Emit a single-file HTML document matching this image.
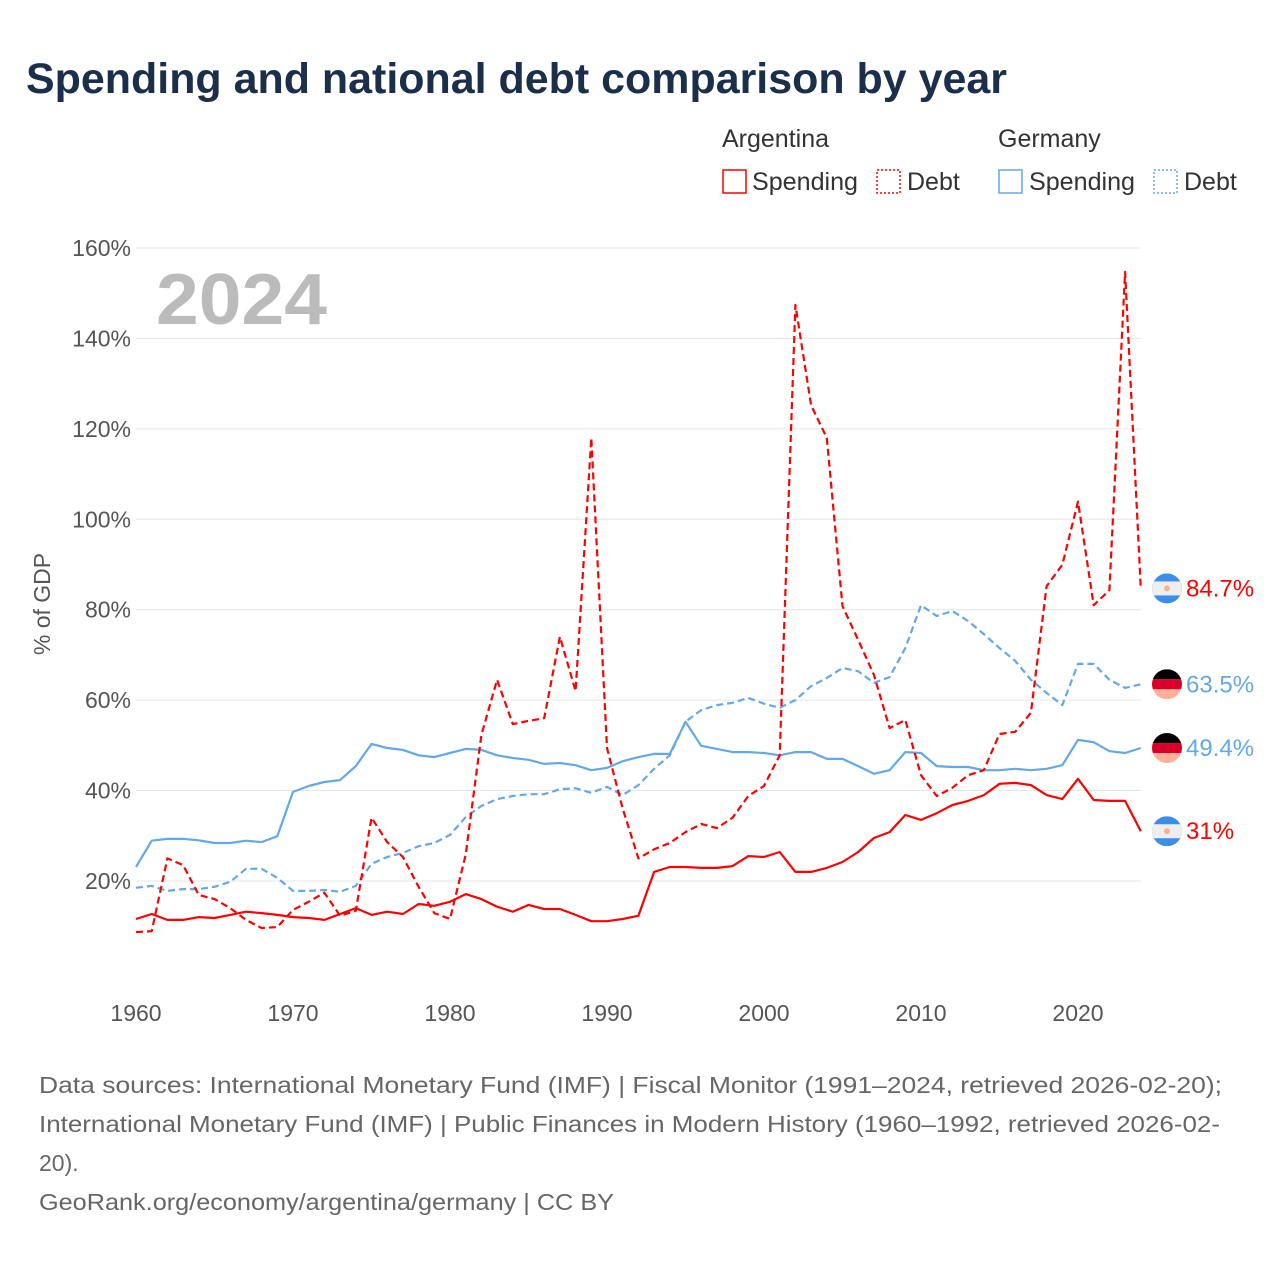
<!DOCTYPE html>
<html><head><meta charset="utf-8">
<style>
body{margin:0;background:#fff;width:1280px;height:1280px;overflow:hidden;font-family:"Liberation Sans",sans-serif}
</style></head>
<body>
<svg id="chart" width="1280" height="1280" xmlns="http://www.w3.org/2000/svg" font-family="Liberation Sans, sans-serif">
<text x="26" y="93" font-size="43" font-weight="bold" fill="#1b2f4b" textLength="981" lengthAdjust="spacingAndGlyphs">Spending and national debt comparison by year</text>
<g font-size="25" fill="#333">
<text x="722" y="147">Argentina</text>
<text x="998" y="147">Germany</text>
<g><rect x="723" y="170" width="23" height="23" fill="none" stroke="#ff0000" stroke-width="1.5"/><text x="752" y="190" textLength="106" lengthAdjust="spacingAndGlyphs">Spending</text></g>
<g><rect x="877" y="170" width="23" height="23" fill="none" stroke="#ff0000" stroke-width="1.5" stroke-dasharray="2,2"/><text x="907" y="190">Debt</text></g>
<g><rect x="999" y="170" width="23" height="23" fill="none" stroke="#64a8e8" stroke-width="1.5"/><text x="1029" y="190" textLength="106" lengthAdjust="spacingAndGlyphs">Spending</text></g>
<g><rect x="1154" y="170" width="23" height="23" fill="none" stroke="#64a8e8" stroke-width="1.5" stroke-dasharray="2,2"/><text x="1184" y="190">Debt</text></g>
</g>
<g id="grid"></g>
<g id="yticks" font-size="23" fill="#555" text-anchor="end"></g>
<g id="xticks" font-size="23" fill="#555" text-anchor="middle"></g>
<text transform="translate(50,604) rotate(-90)" font-size="23" fill="#555" text-anchor="middle">% of GDP</text>
<text x="156" y="324" font-size="72" font-weight="bold" fill="#bbbbbb" textLength="171" lengthAdjust="spacingAndGlyphs">2024</text>
<g id="series"></g>
<g id="endlabels" font-size="24"></g>
<g font-size="23" fill="#666">
<text x="39" y="1093" textLength="1183" lengthAdjust="spacingAndGlyphs">Data sources: International Monetary Fund (IMF) | Fiscal Monitor (1991–2024, retrieved 2026-02-20);</text>
<text x="39" y="1132" textLength="1181" lengthAdjust="spacingAndGlyphs">International Monetary Fund (IMF) | Public Finances in Modern History (1960–1992, retrieved 2026-02-</text>
<text x="39" y="1171">20).</text>
<text x="39" y="1210" textLength="575" lengthAdjust="spacingAndGlyphs">GeoRank.org/economy/argentina/germany | CC BY</text>
</g>
</svg>
<script>
const startYear = 1960;
const yTicks = [20,40,60,80,100,120,140,160];
const xTicks = [1960,1970,1980,1990,2000,2010,2020];
const argSpending = [11.6,12.7,11.4,11.4,12,11.8,12.5,13.2,12.9,12.5,12,11.8,11.4,12.7,14,12.5,13.2,12.7,14.9,14.5,15.4,17.1,16,14.3,13.2,14.7,13.8,13.8,12.5,11.1,11.1,11.6,12.3,22,23.1,23.1,22.9,22.9,23.3,25.5,25.3,26.4,22,22,22.9,24.2,26.4,29.5,30.8,34.6,33.5,35,36.8,37.7,39,41.5,41.7,41.2,39,38.1,42.6,37.9,37.7,37.7,31];
const argDebt = [8.7,8.9,25,23.5,16.9,16,14,11.4,9.6,9.8,13.6,15.4,17.4,12.3,13.4,34,28.6,25.3,18.7,12.9,11.6,25.8,52.3,64.5,54.7,55.4,56,74,62,118,49.4,36,25,27,28.4,30.8,32.6,31.7,34,38.8,41,47.8,147.4,125.2,118,80.8,73.3,65.6,53.8,55.6,43.4,38.8,40.6,43.4,44.5,52.5,53,57.2,85.2,89.9,103.9,81,84.3,154.7,84.7];
const gerSpending = [23.1,28.9,29.3,29.3,29,28.4,28.4,28.9,28.6,29.9,39.7,41,41.9,42.3,45.4,50.3,49.4,49,47.8,47.4,48.3,49.2,49,47.8,47.2,46.8,45.9,46.1,45.6,44.5,45,46.5,47.4,48.1,48.1,55.2,49.9,49.2,48.5,48.5,48.3,47.8,48.5,48.5,47,47,45.4,43.7,44.5,48.5,48.3,45.4,45.2,45.2,44.5,44.5,44.8,44.5,44.8,45.6,51.2,50.7,48.7,48.3,49.4];
const gerDebt = [18.5,18.9,17.8,18.2,18.2,18.7,19.8,22.7,22.7,20.7,17.8,17.8,18,17.6,18.9,23.8,25.3,26.2,27.7,28.4,30.2,34.1,36.6,38.1,38.8,39.2,39.2,40.3,40.5,39.5,40.8,39,41.2,44.8,47.8,55.2,57.8,58.9,59.4,60.5,59.2,58.3,60,63.1,64.9,67.1,66.4,63.8,65.1,71.5,81,78.6,79.7,77.5,74.6,71.5,68.7,64.5,61.6,58.9,68,68,64.5,62.7,63.5];

const NS='http://www.w3.org/2000/svg';
const xS = yr => 136 + (yr-1960)*15.7;
const yS = v => 971.4 - v*4.5214;
function mk(tag, attrs, parent){const e=document.createElementNS(NS,tag);for(const k in attrs)e.setAttribute(k,attrs[k]);parent.appendChild(e);return e;}
const grid=document.getElementById('grid'), yt=document.getElementById('yticks'), xt=document.getElementById('xticks');
yTicks.forEach(t=>{
  const l=mk('line',{x1:136,x2:1141,y1:yS(t),y2:yS(t),stroke:'#e6e6e6','stroke-width':1},grid);
  
  
  const tx=mk('text',{x:131,y:yS(t)+8},yt);
  tx.textContent=t+'%';
  
  
});
xTicks.forEach(t=>{
  const tx=mk('text',{x:xS(t),y:1021},xt);
  tx.textContent=String(t);
  
  
});
const ser=document.getElementById('series');
function line(arr,color,dash,name){
  const pts=arr.map((v,i)=>xS(startYear+i).toFixed(1)+','+yS(v).toFixed(1)).join(' ');
  const p=mk('polyline',{points:pts,fill:'none',stroke:color,'stroke-width':2.2,'stroke-linejoin':'round'},ser);
  if(dash)p.setAttribute('stroke-dasharray','7,4');
  
  
}
line(gerDebt,'#64a8e8',true,'germany-debt-line');
line(gerSpending,'#64a8e8',false,'germany-spending-line');
line(argDebt,'#ff0000',true,'argentina-debt-line');
line(argSpending,'#ff0000',false,'argentina-spending-line');
const el=document.getElementById('endlabels');
function flag(cy,country){
  const g=mk('g',{},el);
  
  
  const cx=1167,r=15;
  const cid='c'+Math.round(cy);
  const cp=mk('clipPath',{id:cid},g);mk('circle',{cx:cx,cy:cy,r:r},cp);
  const gg=mk('g',{'clip-path':'url(#'+cid+')'},g);
  if(country==='argentina'){
    mk('rect',{x:cx-r,y:cy-r,width:2*r,height:2*r,fill:'#3d8ee8'},gg);
    mk('rect',{x:cx-r,y:cy-r/3-2,width:2*r,height:2*r/3+4,fill:'#eeeeee'},gg);
    mk('circle',{cx:cx,cy:cy,r:3,fill:'#f8b090'},gg);
  } else {
    mk('rect',{x:cx-r,y:cy-r,width:2*r,height:2*r/3,fill:'#000'},gg);
    mk('rect',{x:cx-r,y:cy-r/3,width:2*r,height:2*r/3,fill:'#d8002a'},gg);
    mk('rect',{x:cx-r,y:cy+r/3,width:2*r,height:2*r/3,fill:'#ffb09a'},gg);
  }
}
function endLabel(arr,color,country,name){
  const v=arr[arr.length-1], cy=yS(v);
  flag(cy,country);
  const t=mk('text',{x:1186,y:cy+8,fill:color},el);
  t.textContent=(Math.round(v*10)/10)+'%';
  
  
}
endLabel(argDebt,'#ff0000','argentina','argentina-debt-end-label');
endLabel(gerDebt,'#64a8e8','germany','germany-debt-end-label');
endLabel(gerSpending,'#64a8e8','germany','germany-spending-end-label');
endLabel(argSpending,'#ff0000','argentina','argentina-spending-end-label');
</script>
</body></html>
